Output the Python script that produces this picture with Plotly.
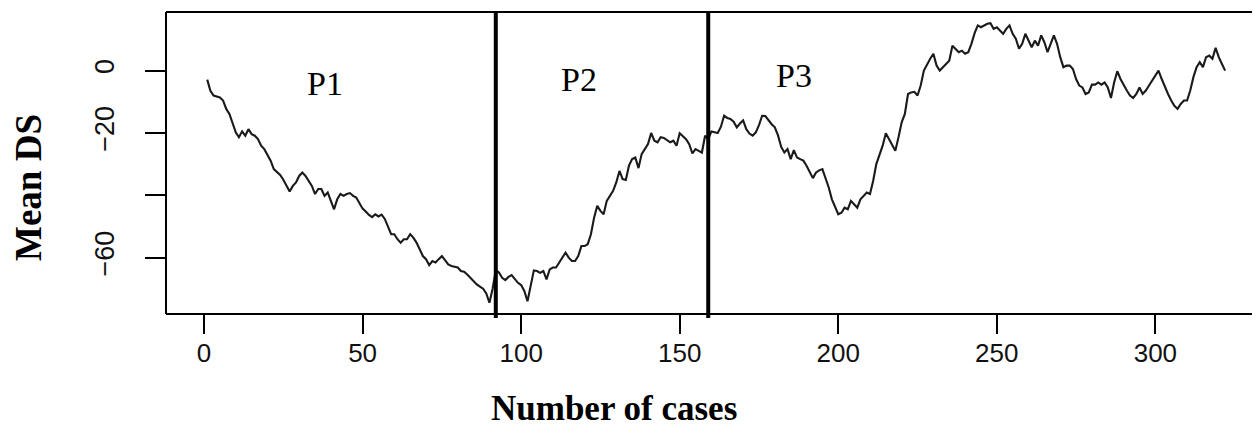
import plotly.graph_objects as go

# Mean DS per case
mean_ds = [
    -2.9, -6.5, -8.0, -8.3, -8.6, -9.6, -12.3, -13.9, -17.1, -19.8,
    -21.4, -19.5, -20.9, -18.8, -20.4, -20.9, -22.0, -24.1, -25.2, -27.3,
    -28.9, -31.6, -32.7, -33.5, -35.0, -37.0, -38.8, -37.0, -35.9, -33.8,
    -32.7, -33.8, -35.4, -37.0, -39.6, -38.0, -38.0, -40.2, -39.1, -41.8,
    -44.5, -41.3, -39.6, -40.2, -39.6, -39.3, -40.2, -40.7, -42.5, -44.3,
    -45.2, -46.3, -47.0, -46.1, -46.8, -46.2, -47.6, -50.0, -52.5, -52.5,
    -54.1, -55.2, -54.1, -54.1, -52.5, -53.6, -55.2, -57.3, -59.5, -60.5,
    -62.4, -61.1, -61.6, -60.5, -59.5, -60.8, -62.2, -62.7, -62.9, -63.2,
    -64.3, -64.5, -65.4, -66.5, -67.3, -68.6, -69.3, -70.0, -71.5, -74.5,
    -70.0, -64.0, -64.8, -66.5, -67.2, -66.2, -65.6, -66.8, -68.1, -68.8,
    -70.7, -74.0, -68.6, -64.1, -64.3, -64.9, -64.3, -67.0, -63.8, -63.2,
    -63.2, -61.6, -60.0, -58.4, -60.0, -61.1, -61.1, -59.5, -56.3, -56.3,
    -55.7, -52.5, -47.2, -43.4, -45.0, -46.1, -41.8, -40.2, -38.6, -35.9,
    -32.2, -34.8, -35.1, -30.5, -28.4, -27.9, -31.3, -26.8, -25.2, -23.6,
    -20.0, -22.5, -23.0, -21.4, -21.6, -22.3, -23.0, -22.5, -24.1, -20.1,
    -21.2, -22.0, -23.6, -26.6, -25.2, -25.7, -26.3, -20.9, -22.0, -19.5,
    -19.8, -20.0, -18.0, -14.5, -15.2, -15.5, -16.4, -18.2, -17.0, -16.0,
    -18.8, -20.2, -20.9, -19.8, -17.5, -14.5, -14.6, -16.0, -17.2, -18.2,
    -20.8, -24.5, -26.3, -25.2, -28.4, -25.5, -27.9, -28.4, -28.9, -30.5,
    -32.5, -34.5, -32.7, -32.0, -31.6, -34.3, -37.5, -41.3, -44.0, -46.1,
    -45.6, -44.0, -44.5, -41.8, -42.9, -44.0, -41.3, -40.2, -39.1, -39.6,
    -35.4, -30.0, -27.0, -24.1, -20.1, -22.0, -24.0, -25.7, -21.4, -16.6,
    -13.9, -7.5, -7.0, -6.8, -8.0, -4.8, 0.0, 2.1, 3.8, 5.4,
    1.6, 0.0, 1.1, 2.1, 3.2, 8.0, 7.0, 5.9, 6.4, 5.4,
    5.9, 8.6, 12.0, 14.5, 13.9, 14.5, 15.0, 15.2, 13.4, 13.9,
    12.9, 11.8, 13.4, 14.5, 11.8, 10.2, 7.0, 8.6, 11.8, 9.6,
    7.5, 9.6, 8.0, 11.3, 9.1, 5.9, 8.6, 11.3, 8.6, 4.3,
    1.1, 1.6, 1.6, 0.5, -2.7, -4.8, -5.4, -7.5, -7.0, -4.5,
    -4.5, -3.8, -4.5, -3.8, -5.4, -8.8, -3.8, -0.2, -2.7, -4.8,
    -6.4, -8.0, -8.8, -7.5, -5.4, -7.5, -6.4, -4.8, -3.2, -1.6,
    0.0, -2.7, -5.4, -7.5, -9.6, -11.3, -12.3, -10.7, -9.6, -9.6,
    -6.4, -2.1, 1.1, 2.7, 1.1, 4.3, 4.8, 3.8, 7.3, 4.3,
    2.1, 0.0,
]
cases = list(range(1, len(mean_ds) + 1))

change_points = [92, 159]
phase_labels = ["P1", "P2", "P3"]
phase_label_x = [38.1, 118.2, 186.0]
phase_label_y = [-4.2, -2.8, -1.7]

x_ticks = [0, 50, 100, 150, 200, 250, 300]
y_ticks = [-60, -40, -20, 0]
y_tick_text = ["\u221260", "", "\u221220", "0"]

# page has an 8px body margin; figure sized so that it fits the 1260x442 window
W, H = 1252, 434
L, T, B = 158, 4, 128
PW, PH = W - L, H - T - B  # plot area size in px


def px_x(page_x):
    return (page_x - 8 - L) / PW


def px_y(page_y):
    return (H - B - (page_y - 8)) / PH


fig = go.Figure()
fig.add_trace(go.Scatter(x=cases, y=mean_ds, mode="lines",
                         line=dict(color="#1a1a1a", width=2.1),
                         showlegend=False, hoverinfo="skip"))

shapes = []
for cp in change_points:
    shapes.append(dict(type="line", xref="x", yref="paper", x0=cp, x1=cp,
                       y0=-0.013, y1=1, line=dict(color="black", width=4)))
# box (left, top, bottom)
for (x0, y0, x1, y1) in [(0, 0, 0, 1), (0, 1, 1, 1), (0, 0, 1, 0)]:
    shapes.append(dict(type="line", xref="paper", yref="paper",
                       x0=x0, y0=y0, x1=x1, y1=y1,
                       line=dict(color="black", width=2)))

annotations = []
for lab, lx, ly in zip(phase_labels, phase_label_x, phase_label_y):
    annotations.append(dict(x=lx, y=ly, xref="x", yref="y", text=lab,
                            showarrow=False, xanchor="center", yanchor="middle",
                            font=dict(family="Liberation Serif", size=34, color="black")))
annotations.append(dict(x=px_x(28.5), y=px_y(187.5), xref="paper", yref="paper",
                        text="<b>Mean DS</b>", textangle=-90, showarrow=False,
                        xanchor="center", yanchor="middle",
                        font=dict(family="Liberation Serif", size=37, color="black")))
annotations.append(dict(x=px_x(614), y=px_y(408), xref="paper", yref="paper",
                        text="<b>Number of cases</b>", showarrow=False,
                        xanchor="center", yanchor="middle",
                        font=dict(family="Liberation Serif", size=35, color="black")))

fig.update_layout(
    width=W, height=H,
    margin=dict(l=L, r=0, t=T, b=B, pad=0),
    paper_bgcolor="white", plot_bgcolor="white",
    shapes=shapes, annotations=annotations,
    xaxis=dict(range=[-12.0, 333.0], tickmode="array", tickvals=x_ticks,
               ticks="outside", ticklen=19, tickwidth=1.5, tickcolor="black",
               showline=False, showgrid=False, zeroline=False,
               tickfont=dict(family="Liberation Sans", size=26, color="#111"),
               ticklabelstandoff=-3),
    yaxis=dict(range=[-78.1, 18.8], tickmode="array", tickvals=y_ticks, ticktext=y_tick_text,
               tickangle=-90, ticks="outside", ticklen=20, tickwidth=1.5, tickcolor="black",
               showline=False, showgrid=False, zeroline=False,
               tickfont=dict(family="Liberation Sans", size=27, color="#111"),
               ticklabelstandoff=20),
)

fig.write_html("out.html")
